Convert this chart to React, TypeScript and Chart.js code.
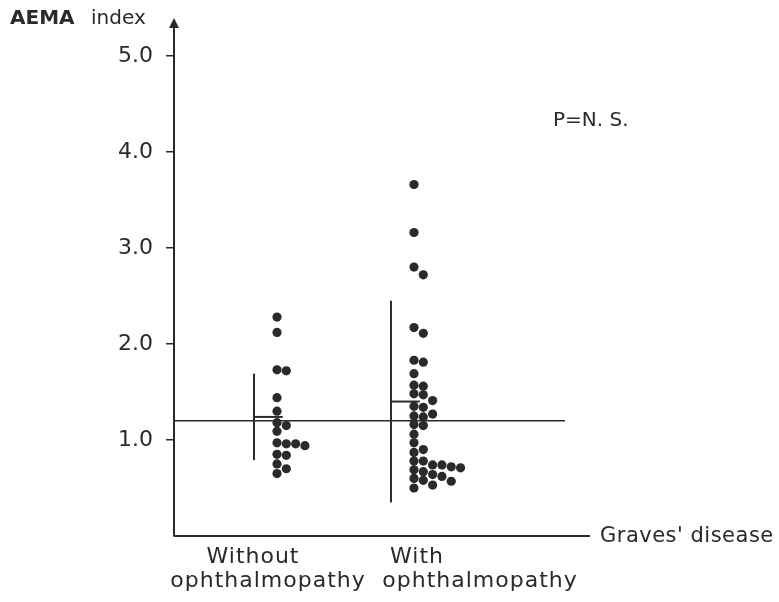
import { useEffect, useRef } from "react";
import { Chart, registerables } from "chart.js";

Chart.register(...registerables);

// AEMA index per patient, Graves' disease without / with ophthalmopathy
const groupNames = [
  ["Without", "ophthalmopathy"],
  ["With", "ophthalmopathy"],
];
const withoutOphthalmopathy = [
  2.28, 2.12, 1.73, 1.72, 1.44, 1.3, 1.18, 1.15, 1.09, 0.97, 0.96, 0.96, 0.94,
  0.85, 0.84, 0.75, 0.7, 0.65,
];
const withOphthalmopathy = [
  3.66, 3.16, 2.8, 2.72, 2.17, 2.11, 1.83, 1.81, 1.69, 1.57, 1.56, 1.48, 1.47,
  1.41, 1.35, 1.34, 1.27, 1.25, 1.24, 1.16, 1.15, 1.06, 0.97, 0.9, 0.87, 0.78,
  0.78, 0.74, 0.74, 0.72, 0.71, 0.69, 0.67, 0.64, 0.62, 0.6, 0.58, 0.57, 0.53,
  0.5,
];
const groupMeans = [1.24, 1.4];
const groupSDs = [0.45, 1.05];
const referenceLevel = 1.2;
const yTickValues = [1, 2, 3, 4, 5];
const yTitle = ["AEMA", "index"];
const xTitle = "Graves' disease";
const significance = "P=N. S.";

const INK = "#2a2a2a";
const FONT = "'DejaVu Sans', sans-serif";

// dot-plot layout in value units
const X_MIN = 0.416;
const X_MAX = 3.453;
const DOT_OFFSET = 0.168;
const COL_STEP = 0.068;
const MIN_GAP = 0.085;
const MEAN_TICK = 0.21;
const REF_END = 3.27;

// place dots in columns so that close values sit side by side
function swarm(values: number[], groupX: number) {
  const cols: number[][] = [];
  return values.map((v) => {
    let c = 0;
    while (cols[c] && cols[c].some((u) => Math.abs(u - v) < MIN_GAP)) c++;
    (cols[c] ||= []).push(v);
    return { x: groupX + DOT_OFFSET + c * COL_STEP, y: v };
  });
}

const decorations = {
  id: "decorations",
  afterDraw(chart: Chart) {
    const { ctx, chartArea } = chart;
    const left = chartArea.left;
    const top = chartArea.top;
    ctx.save();
    // arrow head on the value axis
    ctx.fillStyle = INK;
    ctx.beginPath();
    ctx.moveTo(left, top - 9);
    ctx.lineTo(left - 5, top + 1);
    ctx.lineTo(left + 5, top + 1);
    ctx.closePath();
    ctx.fill();

    ctx.fillStyle = INK;
    ctx.textBaseline = "middle";
    ctx.textAlign = "left";
    ctx.font = `bold 20px ${FONT}`;
    ctx.fillText(yTitle[0], 10, 19);
    ctx.font = `20px ${FONT}`;
    ctx.fillText(yTitle[1], 91, 19);

    ctx.font = `20px ${FONT}`;
    ctx.fillText(significance, 553, 121);

    ctx.font = `21px ${FONT}`;
    (ctx as any).letterSpacing = "0.5px";
    ctx.fillText(xTitle, chartArea.right + 10, chartArea.bottom + 1);

    ctx.textAlign = "center";
    ctx.font = `22px ${FONT}`;
    (ctx as any).letterSpacing = "1px";
    const centers = [
      [253, 268],
      [417, 480],
    ];
    groupNames.forEach((lines, i) => {
      ctx.fillText(lines[0], centers[i][0], 557);
      ctx.fillText(lines[1], centers[i][1], 581);
    });
    ctx.restore();
  },
};

export default function App() {
  const canvasRef = useRef<HTMLCanvasElement | null>(null);

  useEffect(() => {
    if (!canvasRef.current) return;
    const groups = [withoutOphthalmopathy, withOphthalmopathy];
    const lineStyle = {
      showLine: true,
      borderColor: INK,
      borderWidth: 2,
      pointRadius: 0,
      pointHoverRadius: 0,
    };
    const datasets: any[] = [];
    groups.forEach((values, i) => {
      const gx = i + 1;
      datasets.push({
        label: groupNames[i].join(" "),
        data: swarm(values, gx),
        pointRadius: 4.6,
        pointBackgroundColor: INK,
        pointBorderWidth: 0,
        showLine: false,
      });
      datasets.push({
        ...lineStyle,
        data: [
          { x: gx, y: groupMeans[i] - groupSDs[i] },
          { x: gx, y: groupMeans[i] + groupSDs[i] },
        ],
      });
      datasets.push({
        ...lineStyle,
        data: [
          { x: gx, y: groupMeans[i] },
          { x: gx + MEAN_TICK, y: groupMeans[i] },
        ],
      });
    });
    datasets.push({
      ...lineStyle,
      borderWidth: 1.5,
      data: [
        { x: X_MIN, y: referenceLevel },
        { x: REF_END, y: referenceLevel },
      ],
    });
    datasets.push({
      ...lineStyle,
      clip: false,
      data: [
        { x: X_MIN, y: 0 },
        { x: X_MAX, y: 0 },
      ],
    });

    const chart = new Chart(canvasRef.current, {
      type: "scatter",
      data: { datasets },
      options: {
        animation: false,
        responsive: false,
        events: [],
        layout: { padding: { top: 27, left: 0, right: 189, bottom: 66 } },
        plugins: { legend: { display: false }, tooltip: { enabled: false } },
        scales: {
          x: { type: "linear", display: false, min: X_MIN, max: X_MAX },
          y: {
            type: "linear",
            min: 0,
            max: 5.3,
            afterBuildTicks: (scale: any) => {
              scale.ticks = yTickValues.map((v) => ({ value: v }));
            },
            afterFit: (scale: any) => {
              scale.width = 174;
            },
            grid: {
              display: true,
              drawOnChartArea: false,
              drawTicks: true,
              tickLength: 8,
              color: INK,
              lineWidth: 1.5,
            },
            border: { display: true, color: INK, width: 2 },
            ticks: {
              padding: 13,
              color: INK,
              font: { family: FONT, size: 22 },
              callback: (v: any) => Number(v).toFixed(1),
            },
          },
        },
      },
      plugins: [decorations],
    });
    return () => chart.destroy();
  }, []);

  return (
    <div style={{ position: "fixed", left: 0, top: 0, width: 779, height: 602, background: "#fff" }}>
      <canvas ref={canvasRef} width={779} height={602} />
    </div>
  );
}
